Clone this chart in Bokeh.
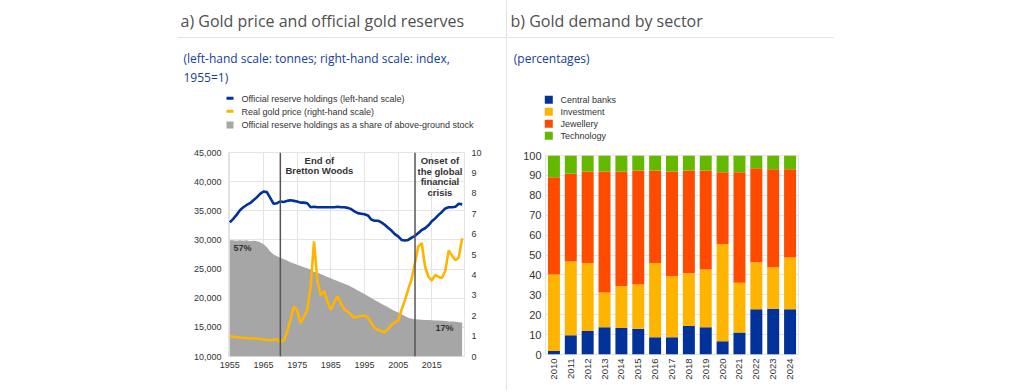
from bokeh.plotting import figure
from bokeh.models import (Range1d, LinearAxis, FixedTicker, NumeralTickFormatter, Span, Label,
                          BoxAnnotation, FactorRange, ColumnDataSource, Spacer)
from bokeh.layouts import row, column
from bokeh.embed import file_html
from bokeh.resources import INLINE

# ---------------- data: panel a ----------------
years = list(range(1955, 2025))
reserves = [33000, 33600, 34300, 35100, 35600, 36000, 36300, 36800, 37300, 37900,
            38300, 38200, 37200, 36200, 36300, 36600, 36500, 36700, 36800, 36700,
            36600, 36400, 36400, 36300, 35600, 35700, 35600, 35600, 35600, 35600,
            35600, 35600, 35700, 35600, 35600, 35500, 35300, 34900, 34600, 34500,
            34400, 34200, 33500, 33300, 33300, 33000, 32600, 32100, 31600, 31000,
            30600, 30000, 29900, 30000, 30400, 30700, 31200, 31700, 32000, 32500,
            33200, 33700, 34300, 34800, 35400, 35600, 35600, 35700, 36200, 36100]
real_price = [1.00, 0.97, 0.95, 0.93, 0.92, 0.90, 0.89, 0.88, 0.87, 0.85,
              0.83, 0.82, 0.80, 0.82, 0.85, 0.70, 0.80, 1.20, 1.80, 2.45,
              2.25, 1.65, 1.95, 2.30, 3.40, 5.65, 3.70, 3.00, 3.20, 2.70,
              2.30, 2.65, 2.95, 2.60, 2.30, 2.20, 2.05, 1.90, 1.95, 2.00,
              2.00, 1.90, 1.65, 1.40, 1.30, 1.25, 1.18, 1.35, 1.55, 1.68,
              1.75, 2.30, 2.75, 3.30, 3.80, 4.60, 5.40, 5.55, 4.40, 3.90,
              3.72, 4.00, 3.90, 3.85, 4.20, 5.20, 4.95, 4.72, 4.85, 5.80]
share = [57.0, 57.0, 56.8, 57.0, 56.8, 57.0, 56.5, 56.8, 56.5, 56.0,
         55.0, 53.5, 51.5, 50.0, 49.2, 48.4, 47.7, 47.0, 46.2, 45.6,
         45.0, 44.4, 43.8, 43.2, 42.5, 41.6, 41.0, 40.4, 39.7, 39.0,
         38.3, 37.6, 37.0, 36.3, 35.7, 35.0, 34.2, 33.3, 32.4, 31.5,
         30.6, 29.7, 28.7, 27.7, 26.8, 25.9, 25.0, 24.1, 23.2, 22.3,
         21.6, 20.7, 19.8, 19.0, 18.5, 18.2, 18.1, 18.0, 17.9, 17.9,
         17.8, 17.7, 17.7, 17.5, 17.4, 17.2, 17.1, 17.0, 16.8, 16.7]
event_years = [1970, 2010]
year_ticks = [1955, 1965, 1975, 1985, 1995, 2005, 2015]
legend_a = ["Official reserve holdings (left-hand scale)",
            "Real gold price (right-hand scale)",
            "Official reserve holdings as a share of above-ground stock"]

# ---------------- data: panel b ----------------
bar_years = [str(y) for y in range(2010, 2025)]
central_banks = [1.7, 9.7, 11.8, 13.7, 13.3, 13.0, 8.7, 8.7, 14.3, 13.7, 6.7, 11.0, 22.7, 23.0, 22.7]
investment = [38.5, 37.0, 34.2, 17.5, 21.0, 22.2, 37.3, 30.6, 26.5, 29.0, 48.8, 25.0, 23.6, 20.8, 26.1]
jewellery = [48.9, 44.1, 46.0, 60.8, 57.7, 57.2, 46.4, 52.7, 51.6, 49.7, 36.1, 55.6, 47.3, 49.3, 44.3]
technology = [10.9, 9.2, 8.0, 8.0, 8.0, 7.6, 7.6, 8.0, 7.6, 7.6, 8.4, 8.4, 6.4, 6.9, 6.9]
sectors = ["Central banks", "Investment", "Jewellery", "Technology"]

# ---------------- styles ----------------
BLUE = "#003299"
YELLOW = "#ffb400"
ORANGE = "#ff4b00"
GREEN = "#65b800"
AREA = "#a6a6a6"
GRID = "#e4e4e4"
TXT = "#333333"
TITLE_C = "#4f4f4f"
SUB_C = "#14409c"
SEP = "#e2e2e2"
F = "Liberation Sans"
OS = "Open Sans"
HEAD_H = 145
CHART_H = 245


def style_axis(ax, size="9px", standoff=5):
    ax.axis_line_color = None
    ax.major_tick_line_color = None
    ax.minor_tick_line_color = None
    ax.major_tick_out = 0
    ax.major_tick_in = 0
    ax.minor_tick_out = 0
    ax.minor_tick_in = 0
    ax.major_label_standoff = standoff
    ax.major_label_text_font = F
    ax.major_label_text_font_size = size
    ax.major_label_text_color = TXT


def header(width):
    h = figure(width=width, height=HEAD_H, x_range=Range1d(0, width), y_range=Range1d(HEAD_H, 0),
               x_axis_type=None, y_axis_type=None, min_border=0, outline_line_color=None,
               output_backend="svg", toolbar_location=None, frame_align=False)
    h.grid.visible = False
    return h


def text(p, x, y, t, font=F, size="9px", color=TXT, baseline="middle", style="normal"):
    p.add_layout(Label(x=x, y=y, text=t, text_font=font, text_font_size=size,
                       text_color=color, text_baseline=baseline, text_font_style=style))


def box(p, l, r, t, b, color):
    p.add_layout(BoxAnnotation(left=l, right=r, top=t, bottom=b, fill_color=color,
                               fill_alpha=1, line_color=None))


# ================= panel a: header =================
hA = header(506)
text(hA, 180, 20.7, "a) Gold price and official gold reserves", OS, "16px", TITLE_C, "alphabetic")
text(hA, 183, 58.3, "(left-hand scale: tonnes; right-hand scale: index,", OS, "12px", SUB_C, "alphabetic")
text(hA, 183, 77.0, "1955=1)", OS, "12px", SUB_C, "alphabetic")
box(hA, 177, 506, 36.5, 37.5, SEP)
box(hA, 226, 233, 96.2, 99.2, BLUE)
box(hA, 226, 233, 109.2, 112.2, YELLOW)
box(hA, 226, 233, 121, 128, AREA)
for t, y in zip(legend_a, [98.3, 111.0, 124.6]):
    text(hA, 241, y, t)

# ================= panel a: chart =================
pA = figure(width=506, height=CHART_H, frame_width=236, frame_height=204,
            min_border_left=228, min_border_right=42, min_border_top=7, min_border_bottom=34,
            x_range=Range1d(1954.6, 2024.7), y_range=Range1d(10000, 45000),
            output_backend="svg", toolbar_location=None, background_fill_color="white",
            border_fill_color="white", outline_line_color=GRID, frame_align=False)
pA.extra_y_ranges = {"price": Range1d(0, 10), "share": Range1d(0, 100)}

pA.xaxis.ticker = FixedTicker(ticks=year_ticks)
pA.yaxis.ticker = FixedTicker(ticks=list(range(10000, 45001, 5000)))
pA.yaxis.formatter = NumeralTickFormatter(format="0,0")
style_axis(pA.xaxis[0], "9px", 5)
style_axis(pA.yaxis[0], "9px", 7)
rax = LinearAxis(y_range_name="price", ticker=FixedTicker(ticks=list(range(0, 11))))
style_axis(rax, "9px", 7)
pA.add_layout(rax, "right")
pA.xgrid.grid_line_color = GRID
pA.ygrid.grid_line_color = GRID

src_a = ColumnDataSource(dict(year=years, reserves=reserves, price=real_price, share=share))
pA.varea(x="year", y1=0, y2="share", source=src_a, fill_color=AREA, y_range_name="share")
for ey in event_years:
    pA.add_layout(Span(location=ey, dimension="height", line_color="#555555", line_width=1.5))
pA.line(x="year", y="reserves", source=src_a, line_color=BLUE, line_width=2.6)
pA.line(x="year", y="price", source=src_a, line_color=YELLOW, line_width=2.6, y_range_name="price")

for t, x, y in [("End of", 1981.6, 43700), ("Bretton Woods", 1981.6, 41860),
                ("Onset of", 2017.4, 43700), ("the global", 2017.4, 41740),
                ("financial", 2017.4, 39970), ("crisis", 2017.4, 38140)]:
    pA.add_layout(Label(x=x, y=y, text=t, text_align="center", text_baseline="middle",
                        text_font=F, text_font_size="9.5px", text_font_style="bold",
                        text_color=TXT))
for t, x, y in [("57%", 1956.1, 28530), ("17%", 2016.1, 14975)]:
    pA.add_layout(Label(x=x, y=y, text=t, text_align="left", text_baseline="middle",
                        text_font=F, text_font_size="9px", text_font_style="bold",
                        text_color=TXT))

# ================= panel b: header =================
hB = header(509)
text(hB, 3, 20.7, "b) Gold demand by sector", OS, "16px", TITLE_C, "alphabetic")
text(hB, 6.3, 58.3, "(percentages)", OS, "12px", SUB_C, "alphabetic")
box(hB, 0, 326, 36.5, 37.5, SEP)
for s, c, y in zip(sectors, [BLUE, YELLOW, ORANGE, GREEN], [99.3, 111.3, 123.3, 135.3]):
    box(hB, 37.3, 45.3, y - 4, y + 4, c)
    text(hB, 53, y, s)

# ================= panel b: chart =================
src_b = ColumnDataSource(dict(year=bar_years, cb=central_banks, inv=investment,
                              jew=jewellery, tech=technology))
pB = figure(width=509, height=CHART_H, frame_width=253, frame_height=199,
            min_border_left=38, min_border_right=218, min_border_top=10, min_border_bottom=36,
            x_range=FactorRange(factors=bar_years), y_range=Range1d(0, 100),
            output_backend="svg", toolbar_location=None, background_fill_color="white",
            border_fill_color="white", outline_line_color=GRID, frame_align=False)
pB.vbar_stack(["cb", "inv", "jew", "tech"], x="year", width=0.71, source=src_b,
              fill_color=[BLUE, YELLOW, ORANGE, GREEN], line_color=None)
pB.yaxis.ticker = FixedTicker(ticks=list(range(0, 101, 10)))
style_axis(pB.xaxis[0], "9.5px", 4)
style_axis(pB.yaxis[0], "11px", 4)
pB.xaxis.major_label_orientation = 3.14159265 / 2
pB.xgrid.grid_line_color = None
pB.ygrid.grid_line_color = GRID

sep = Spacer(width=1, height=HEAD_H + CHART_H, styles={"background-color": SEP})
layout = row(column(hA, pA, spacing=0), sep, column(hB, pB, spacing=0), spacing=0)
open("out.html", "w").write(file_html(layout, INLINE))
